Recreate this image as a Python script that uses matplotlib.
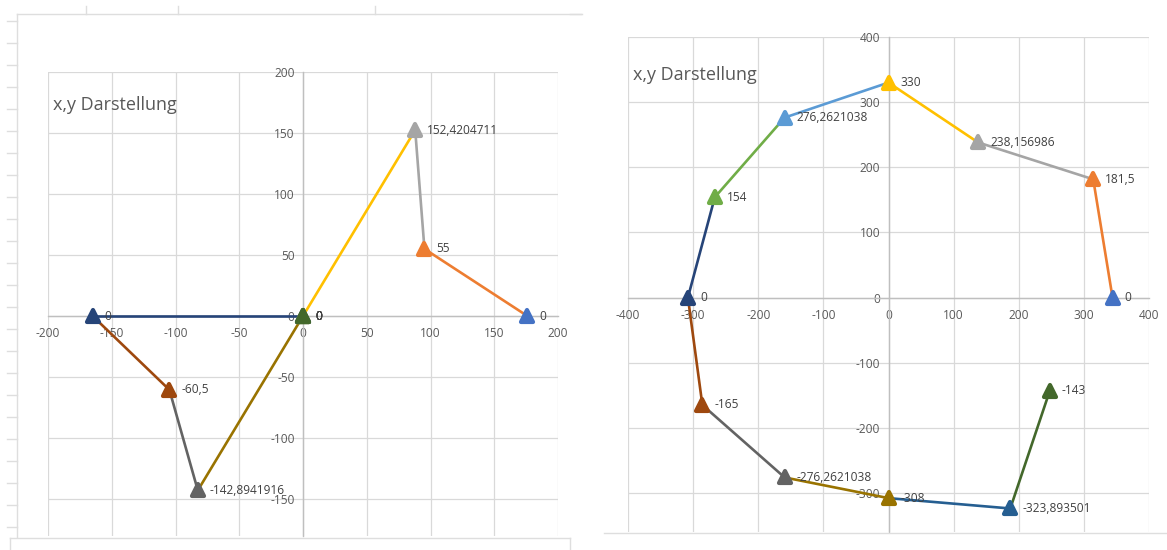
import matplotlib
matplotlib.use("Agg")
import matplotlib.pyplot as plt
from matplotlib.lines import Line2D
from matplotlib.markers import MarkerStyle

plt.rcParams["font.family"] = ["Open Sans", "DejaVu Sans"]
plt.rcParams["axes.unicode_minus"] = False

W, H = 1167, 550

# Office series colours, one per segment
series_colors = ["#4472C4", "#ED7D31", "#A5A5A5", "#FFC000", "#5B9BD5", "#70AD47",
                 "#264478", "#9E480E", "#636363", "#997300", "#255E91", "#43682B"]

# first chart: points of the polygon
left_x = [176, 95.26, 88, 0, 0, 0, -165, -104.79, -82.5, 0, 0, 0]
left_y = [0, 55, 152.4204711, 0, 0, 0, 0, -60.5, -142.8941916, 0, 0, 0]
left_xticks = [-200, -150, -100, -50, 0, 50, 100, 150, 200]
left_yticks = [-150, -100, -50, 0, 50, 100, 150, 200]

# second chart: points of the polygon
right_x = [344, 314.36, 137.5, 0, -159.5, -266.7, -308, -285.8, -159.5, 0, 187, 247.7]
right_y = [0, 181.5, 238.156986, 330, 276.2621038, 154, 0, -165, -276.2621038, -308,
           -323.893501, -143]
right_xticks = [-400, -300, -200, -100, 0, 100, 200, 300, 400]
right_yticks = [-300, -200, -100, 0, 100, 200, 300, 400]

title_text = "x,y Darstellung"

GRID = "#D9D9D9"
AXIS = "#BFBFBF"
TXT = "#595959"
FRAME = "#DEDEDE"
FS = 8.6


def fmt(v):
    return ("%.10g" % v).replace(".", ",")


def px_rect(x0, x1, y0, y1):
    return [x0 / W, 1 - y1 / H, (x1 - x0) / W, (y1 - y0) / H]


def fig_line(fig, xs, ys, color=FRAME, lw=1.0):
    fig.add_artist(Line2D([x / W for x in xs], [1 - y / H for y in ys],
                          color=color, lw=lw, transform=fig.transFigure))


def draw_chart(ax, xs, ys, xticks, yticks, xlim, ylim):
    ax.set_xlim(*xlim)
    ax.set_ylim(*ylim)
    ax.set_xticks(xticks, labels=[str(t) for t in xticks])
    ax.set_yticks(yticks, labels=[str(t) for t in yticks])
    ax.grid(True, color=GRID, lw=0.9, zorder=0)
    for gl in ax.get_xgridlines() + ax.get_ygridlines():
        gl.set_clip_on(False)
    ax.set_axisbelow(True)
    for side in ("top", "right"):
        ax.spines[side].set_visible(False)
    for side in ("left", "bottom"):
        ax.spines[side].set_position(("data", 0))
        ax.spines[side].set_color(AXIS)
        ax.spines[side].set_linewidth(1.0)
        ax.spines[side].set_zorder(1)
    ax.tick_params(axis="x", length=0, pad=8, labelsize=FS, labelcolor=TXT)
    ax.tick_params(axis="y", length=0, pad=6, labelsize=FS, labelcolor=TXT)
    ax.patch.set_alpha(0)

    tri = MarkerStyle("^", joinstyle="round")
    for k in range(len(xs)):
        c = series_colors[k]
        if k > 0:
            ax.plot([xs[k - 1], xs[k]], [ys[k - 1], ys[k]], color=c, lw=1.9,
                    solid_capstyle="round", zorder=3, clip_on=False)
        ax.plot([xs[k]], [ys[k]], linestyle="none", marker=tri, ms=8, mfc=c, mec=c,
                mew=3.0, zorder=4, clip_on=False)
        ax.annotate(fmt(ys[k]), (xs[k], ys[k]), xytext=(12, 0), textcoords="offset pixels",
                    ha="left", va="center", fontsize=FS, color="#404040", zorder=5,
                    annotation_clip=False)


fig = plt.figure(figsize=(W / 100, H / 100), dpi=100)
fig.patch.set_facecolor("white")

# spreadsheet frame around the first chart
fig_line(fig, [17, 17], [14, 537])
fig_line(fig, [17, 582], [14, 14])
for yy in range(21, 532, 22):
    fig_line(fig, [7, 17], [yy, yy])
for xx in (86, 178, 375):
    fig_line(fig, [xx, xx], [6, 14])
fig_line(fig, [10, 570], [538, 538])
fig_line(fig, [10, 10], [538, 550])
fig_line(fig, [570, 570], [538, 550])
fig_line(fig, [570, 581], [14, 14])
fig_line(fig, [604, 1167], [533, 533])

ax1 = fig.add_axes(px_rect(48, 558, 72, 536))
draw_chart(ax1, left_x, left_y, left_xticks, left_yticks, (-200, 200), (-180.3, 200))

ax2 = fig.add_axes(px_rect(628, 1149, 37, 532))
draw_chart(ax2, right_x, right_y, right_xticks, right_yticks, (-400, 400), (-360, 400))

fig.text(53 / W, 1 - 105 / H, title_text, ha="left", va="center", fontsize=13, color=TXT)
fig.text(633 / W, 1 - 75 / H, title_text, ha="left", va="center", fontsize=13, color=TXT)

fig.savefig("out.png", dpi=100, facecolor="white")
